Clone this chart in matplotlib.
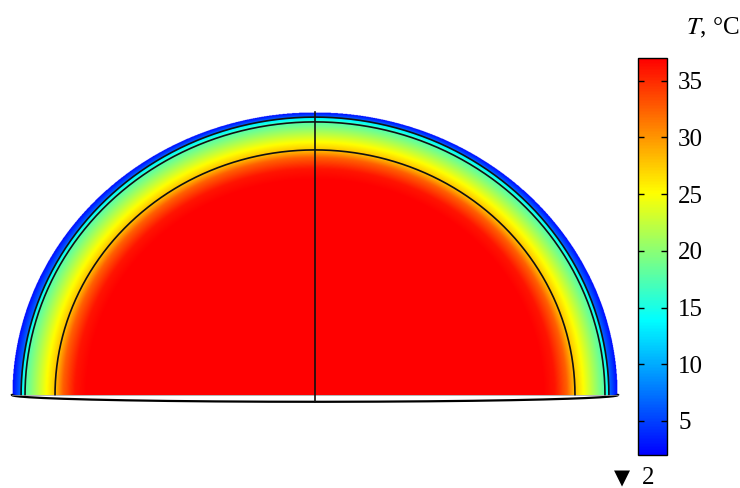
import numpy as np
import matplotlib
matplotlib.use("Agg")
import matplotlib.pyplot as plt
from matplotlib.colors import LinearSegmentedColormap

plt.rcParams['font.family'] = ['Liberation Serif', 'DejaVu Sans']

# radial temperature profile across the dome (fraction of outer radius -> degC)
r_nodes = [0.0, 0.76, 0.80, 0.84, 0.866, 0.90, 0.965, 0.981, 0.983, 1.0]
t_nodes = [37.0, 37.0, 36.0, 32.5, 28.0, 24.5, 17.5, 12.5, 7.0, 2.2]

# layer boundaries: reference radius, horizontal and vertical semi-axes
layer_r = [0.866, 0.965, 0.982]
layer_ax = [0.858, 0.957, 0.970]
layer_ay = [0.866, 0.965, 0.982]

t_min, t_max = 2.0, 37.0
cbar_ticks = [5, 10, 15, 20, 25, 30, 35]

rainbow = LinearSegmentedColormap.from_list(
    'rainbow_comsol',
    [(0.0, (0, 0, 1)), (0.34, (0, 1, 1)), (0.66, (1, 1, 0)), (1.0, (1, 0, 0))])
rainbow.set_bad((1, 1, 1, 0))

W, H = 740, 488
fig = plt.figure(figsize=(W / 100, H / 100), dpi=100)

# dome axes: outer radius 303 px wide, 283 px high, base centre at (315, 395)
px_l, px_r, px_t, px_b = 0, 630, 100, 420
cx, cy, rx, ry = 315, 395, 303, 283
ax = fig.add_axes([px_l / W, (H - px_b) / H, (px_r - px_l) / W, (px_b - px_t) / H])
ax.set_xlim((px_l - cx) / rx, (px_r - cx) / rx)
ax.set_ylim((cy - px_b) / ry, (cy - px_t) / ry)
ax.axis('off')

xs = np.linspace(-1.0, 1.0, 1400)
ys = np.linspace(0.0, 1.0, 700)
X, Y = np.meshgrid(xs, ys)
R = np.hypot(X, Y)
phi = np.arctan2(Y, X)

# map each point onto the reference radius using the elliptical layer boundaries
bounds = [np.zeros_like(R)]
refs = [0.0]
for r0, a, b in zip(layer_r, layer_ax, layer_ay):
    bounds.append(1.0 / np.sqrt((np.cos(phi) / a) ** 2 + (np.sin(phi) / b) ** 2))
    refs.append(r0)
bounds.append(np.ones_like(R))
refs.append(1.0)
R_ref = np.zeros_like(R)
for i in range(len(bounds) - 1):
    lo, hi = bounds[i], bounds[i + 1]
    sel = (R >= lo) & (R <= hi)
    f = (R - lo) / (hi - lo)
    R_ref[sel] = (refs[i] + f * (refs[i + 1] - refs[i]))[sel]

T = np.interp(R_ref, r_nodes, t_nodes)
T = np.ma.masked_where(R > 1.0, T)
im = ax.imshow(T, extent=(-1, 1, 0, 1), origin='lower', cmap=rainbow,
               vmin=t_min, vmax=t_max, interpolation='bilinear', aspect='auto')

th = np.linspace(0, np.pi, 400)
for a, b in zip(layer_ax, layer_ay):
    ax.plot(a * np.cos(th), b * np.sin(th), color='#111111', lw=1.2)

# base of the dome seen slightly from above
ax.fill_between(np.cos(th), 0, -0.024 * np.sin(th), color='white', lw=0)
ax.plot(np.cos(th), -0.024 * np.sin(th), color='black', lw=1.6)
ax.plot([-1, 1], [0, 0], color='0.6', lw=0.5)
ax.plot([0, 0], [-0.024, 1.0], color='#111111', lw=1.2)

# colour bar
cax = fig.add_axes([638 / W, (H - 455) / H, 29 / W, 397 / H])
cb = fig.colorbar(im, cax=cax, ticks=cbar_ticks)
cb.outline.set_linewidth(1.0)
cax.tick_params(axis='y', direction='in', left=True, right=True, length=4,
                width=1, labelsize=18, pad=8)

fig.text(713 / W, 1 - 28 / H, r'$\it{T}$, °C', fontsize=18, ha='center', va='center',
         math_fontfamily='stix')
fig.text(622 / W, 1 - 478 / H, '▼', fontsize=15, ha='center', va='center',
         family=['DejaVu Sans'])
fig.text(642 / W, 1 - 478 / H, '2', fontsize=18, ha='left', va='center')

fig.savefig('out.png', dpi=100)
